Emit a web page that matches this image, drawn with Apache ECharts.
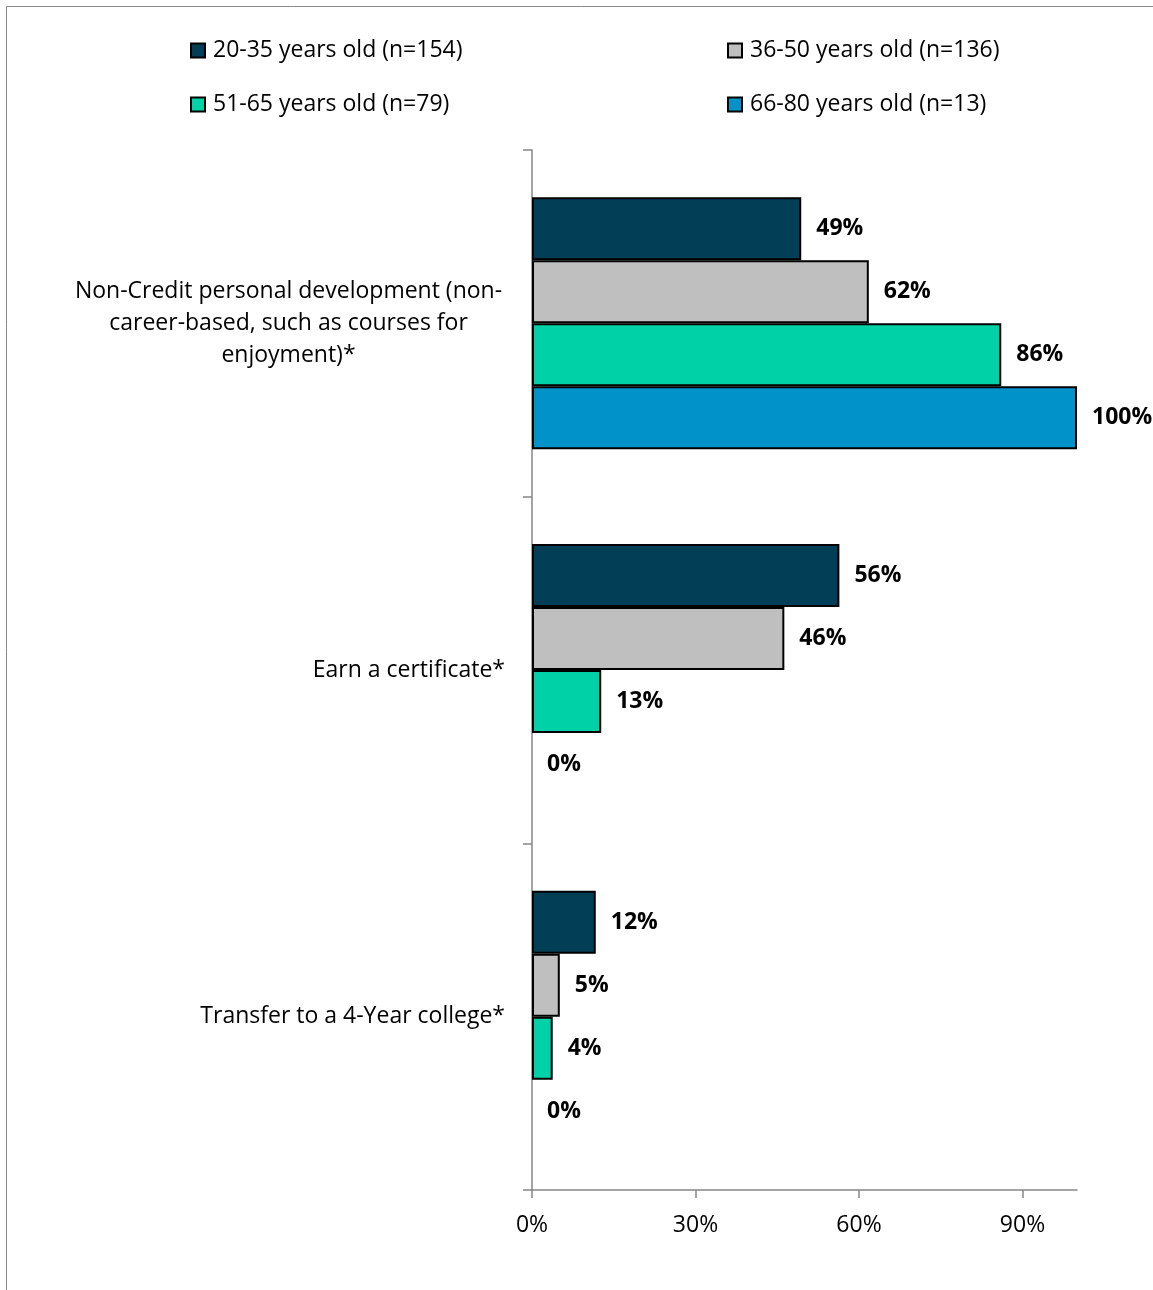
<!DOCTYPE html>
<html>
<head>
<meta charset="utf-8">
<script src="https://cdn.jsdelivr.net/npm/echarts@6/dist/echarts.min.js"></script>
<style>
html,body{margin:0;padding:0;background:#fff;}
#chart{width:1153px;height:1290px;}
</style>
</head>
<body>
<div id="chart"></div>
<script>
var categories = [
  'Non-Credit personal development (non-\ncareer-based, such as courses for\nenjoyment)*',
  'Earn a certificate*',
  'Transfer to a 4-Year college*'
];
var seriesNames = ['20-35 years old (n=154)', '36-50 years old (n=136)', '51-65 years old (n=79)', '66-80 years old (n=13)'];
var age20to35 = [0.494, 0.564, 0.117];
var age36to50 = [0.618, 0.463, 0.051];
var age51to65 = [0.861, 0.127, 0.038];
var age66to80 = [1.0, 0, 0];
var xTicks = [0, 0.3, 0.6, 0.9];
var colors = ['#023E56', '#BFBFBF', '#00D1A7', '#0092C8'];

var FONT = '"Open Sans"';
var FS = 23;
var chart = echarts.init(document.getElementById('chart'));
var values = [age20to35, age36to50, age51to65, age66to80];

var legendPos = [
  {left: 190, top: 39},
  {left: 727, top: 39},
  {left: 190, top: 93},
  {left: 727, top: 93}
];

var option = {
  animation: false,
  backgroundColor: '#fff',
  graphic: [{
    type: 'rect',
    shape: {x: 6.5, y: 6.5, width: 1400, height: 1400},
    style: {fill: 'none', stroke: '#8a8a8a', lineWidth: 1},
    silent: true
  }],
  legend: seriesNames.map(function (n, i) {
    return {
      data: [n],
      left: legendPos[i].left,
      top: legendPos[i].top,
      padding: 0,
      icon: 'rect',
      itemWidth: 14,
      itemHeight: 14,
      itemGap: 0,
      textStyle: {fontFamily: FONT, fontSize: FS, color: '#000', padding: [0, 0, 0, 3]},
      selectedMode: false
    };
  }),
  grid: {left: 532, right: 76, top: 150, bottom: 100, containLabel: false},
  xAxis: {
    type: 'value',
    min: 0,
    max: 1,
    interval: 0.3,
    axisLine: {show: true, lineStyle: {color: '#868686', width: 1.5}},
    axisTick: {show: true, length: 8, lineStyle: {color: '#868686', width: 1.5},
      customValues: xTicks},
    splitLine: {show: false},
    axisLabel: {
      customValues: xTicks,
      margin: 24,
      fontFamily: FONT, fontSize: FS, color: '#000',
      formatter: function (v) { return Math.round(v * 100) + '%'; }
    }
  },
  yAxis: {
    type: 'category',
    inverse: true,
    data: categories,
    axisLine: {show: true, lineStyle: {color: '#868686', width: 1.5}},
    axisTick: {show: true, length: 9, lineStyle: {color: '#868686', width: 1.5}},
    axisLabel: {
      margin: 27,
      fontFamily: FONT, fontSize: FS, color: '#000', lineHeight: 32,
      formatter: function (v) {
        if (v.indexOf('\n') >= 0) {
          return v.split('\n').map(function (s) { return '{c|' + s + '}'; }).join('\n');
        }
        return v;
      },
      rich: {
        c: {width: 433, align: 'center', fontFamily: FONT, fontSize: FS, lineHeight: 32, color: '#000'}
      }
    }
  },
  series: seriesNames.map(function (n, i) {
    return {
      name: n,
      type: 'bar',
      data: values[i].map(function (v) {
        return v === 0 ? {value: v, itemStyle: {borderWidth: 0}} : v;
      }),
      barWidth: 63,
      barGap: '0%',
      itemStyle: {color: colors[i], borderColor: '#000', borderWidth: 2},
      label: {
        show: true,
        position: 'right',
        distance: 15,
        fontFamily: FONT, fontSize: FS, fontWeight: 'bold', color: '#000',
        formatter: function (p) { return Math.round(p.value * 100) + '%'; }
      }
    };
  })
};
chart.setOption(option);
</script>
</body>
</html>
